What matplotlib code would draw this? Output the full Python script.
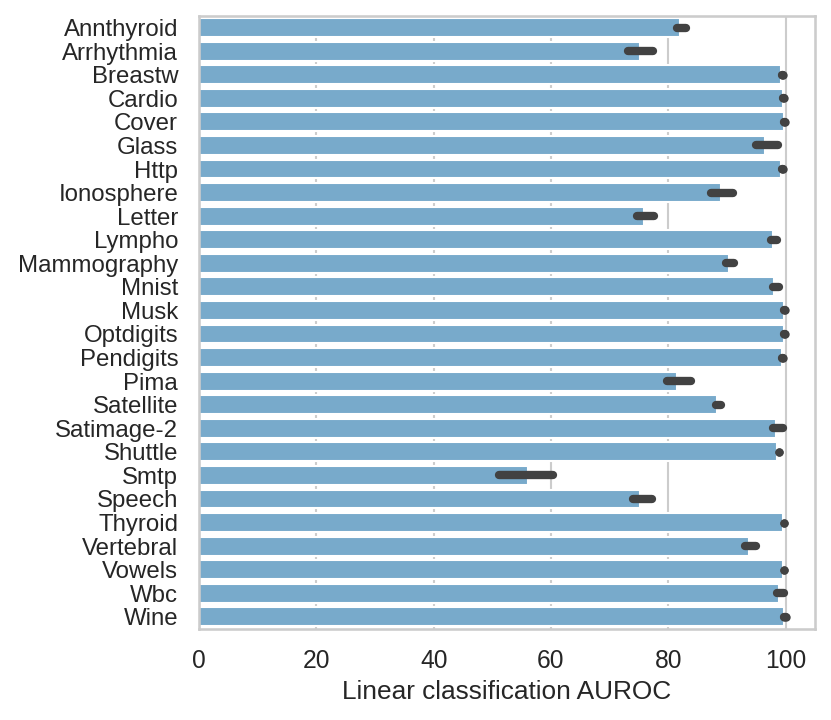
import numpy as np
import matplotlib.pyplot as plt

# Datasets and linear-probe AUROC (mean, CI low, CI high)
datasets = ['Annthyroid', 'Arrhythmia', 'Breastw', 'Cardio', 'Cover', 'Glass',
            'Http', 'Ionosphere', 'Letter', 'Lympho', 'Mammography', 'Mnist',
            'Musk', 'Optdigits', 'Pendigits', 'Pima', 'Satellite', 'Satimage-2',
            'Shuttle', 'Smtp', 'Speech', 'Thyroid', 'Vertebral', 'Vowels',
            'Wbc', 'Wine']
auroc = [82.0, 75.2, 99.2, 99.5, 99.7, 96.4, 99.2, 88.9, 75.9, 97.9, 90.4, 98.1,
         99.7, 99.7, 99.3, 81.5, 88.3, 98.3, 98.6, 56.1, 75.2, 99.6, 93.8, 99.6,
         98.8, 99.8]
ci_lo = [81.5, 73.2, 99.4, 99.6, 99.7, 94.9, 99.4, 87.3, 74.6, 97.5, 89.9, 97.9,
         99.8, 99.8, 99.4, 79.7, 88.2, 97.8, 98.8, 51.1, 73.9, 99.7, 93.1, 99.7,
         98.5, 99.8]
ci_hi = [83.1, 77.4, 99.5, 99.8, 99.9, 98.7, 99.5, 91.1, 77.5, 98.6, 91.2, 98.8,
         99.9, 99.9, 99.5, 83.9, 89.0, 99.6, 98.9, 60.4, 77.2, 99.8, 94.9, 99.8,
         99.7, 100.0]

plt.rcParams['font.family'] = ['Liberation Sans', 'DejaVu Sans']

fig = plt.figure(figsize=(5.54, 4.8), dpi=150)
ax = fig.add_axes([0.2395, 0.127, 0.7412, 0.851])

y = np.arange(len(datasets))
ax.barh(y, auroc, height=0.8, color='#78aacb', edgecolor='white',
        linewidth=1.0, zorder=2)
err_lw = 4.0
for yi, lo, hi in zip(y, ci_lo, ci_hi):
    # very short intervals get a dot so they don't vanish
    mk = 'o' if hi - lo < 0.5 else 'None'
    ax.plot([lo, hi], [yi, yi], color='#424242', lw=err_lw,
            solid_capstyle='round', marker=mk, ms=err_lw, mew=0, zorder=3)

ax.set_yticks(y)
ax.set_yticklabels(datasets, fontsize=11.5, color='#262626')
ax.set_ylim(len(datasets) - 0.5, -0.5)
ax.set_xlim(0, 105)
ax.set_xticks([0, 20, 40, 60, 80, 100])
ax.tick_params(axis='x', labelsize=11.8, labelcolor='#262626', length=0, pad=10)
ax.tick_params(axis='y', length=0, pad=10)
ax.set_xlabel('Linear classification AUROC', fontsize=12.6, color='#262626',
              labelpad=3)

ax.grid(axis='x', color='#cccccc', lw=1.0, zorder=0)
ax.set_axisbelow(True)
for s in ax.spines.values():
    s.set_color('#cccccc')
    s.set_linewidth(1.25)

fig.savefig('out.png', dpi=150)
